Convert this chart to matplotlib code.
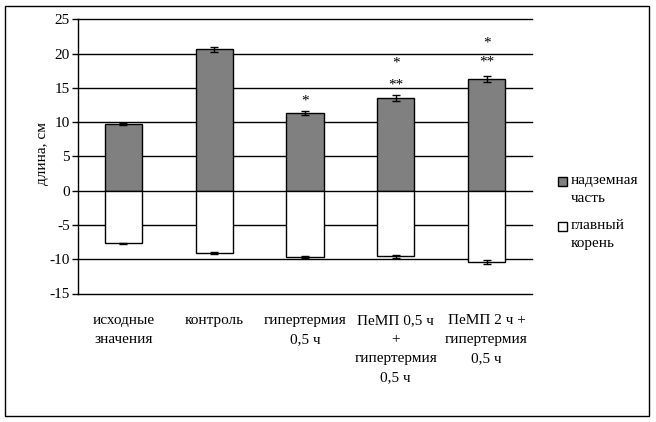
import matplotlib
matplotlib.use("Agg")
import matplotlib.pyplot as plt
from matplotlib.patches import Rectangle
import numpy as np

plt.rcParams['font.family'] = ['Liberation Serif', 'DejaVu Serif']

categories = ["исходные\nзначения", "контроль", "гипертермия\n0,5 ч",
              "ПеМП 0,5 ч\n+\nгипертермия\n0,5 ч", "ПеМП 2 ч +\nгипертермия\n0,5 ч"]
shoot = [9.7, 20.6, 11.3, 13.5, 16.3]
shoot_err = [0.15, 0.3, 0.3, 0.4, 0.5]
root = [-7.7, -9.1, -9.7, -9.6, -10.4]
root_err = [0.12, 0.12, 0.15, 0.2, 0.25]
# significance marks: (category index, y position, text)
marks = [(2, 13.1, "*"), (3, 15.4, "**"), (3, 18.6, "*"), (4, 18.7, "**"), (4, 21.6, "*")]
yticks = [-15, -10, -5, 0, 5, 10, 15, 20, 25]
legend_labels = ['надземная\nчасть', 'главный\nкорень']
colors = ['#808080', 'white']

FS = 11
fig = plt.figure(figsize=(6.56, 4.22), dpi=100)
ax = fig.add_axes([78/656, 1-293.5/422, (532-78)/656, (293.5-19.3)/422])

x = np.arange(len(categories))
w = 0.41
ekw = dict(ecolor='black', elinewidth=1, capsize=3, capthick=1, zorder=4)
ax.bar(x, shoot, w, color=colors[0], edgecolor='black', linewidth=1, zorder=3,
       yerr=shoot_err, error_kw=ekw)
ax.bar(x, root, w, color=colors[1], edgecolor='black', linewidth=1, zorder=3,
       yerr=root_err, error_kw=ekw)

for i, yv, t in marks:
    ax.text(i, yv, t, ha='center', va='center', fontsize=FS, zorder=5)

ax.set_xlim(-0.5, len(categories) - 0.5)
ax.set_ylim(-15, 25)
ax.set_yticks(yticks)
ax.set_yticklabels([str(v) for v in yticks], fontsize=FS)
ax.set_xticks(x)
ax.set_xticklabels(categories, fontsize=FS, linespacing=1.6, va='top')
ax.tick_params(axis='x', length=0, pad=15)
ax.tick_params(axis='y', length=4, width=1, direction='out', pad=2)
for yv in yticks:
    ax.axhline(yv, color='black', linewidth=1, zorder=1, clip_on=False)
for s in ['top', 'right', 'bottom']:
    ax.spines[s].set_visible(False)
ax.spines['left'].set_linewidth(1)
ax.set_ylabel("длина, см", fontsize=FS)
ax.yaxis.set_label_coords(-0.064, 0.51)

# legend drawn manually
for k, (lab, c) in enumerate(zip(legend_labels, colors)):
    ytop = 177 + k * 45
    fig.patches.append(Rectangle((558/656, 1-(ytop+9)/422), 9/656, 9/422,
                                 transform=fig.transFigure, facecolor=c,
                                 edgecolor='black', linewidth=1))
    fig.text(571/656, 1-(ytop-3)/422, lab, ha='left', va='top', fontsize=FS,
             linespacing=1.55)

fig.patches.append(Rectangle((5/656, 6/422), 644/656, 410/422, transform=fig.transFigure,
                             fill=False, edgecolor='black', linewidth=1))
fig.savefig("out.png", dpi=100)
